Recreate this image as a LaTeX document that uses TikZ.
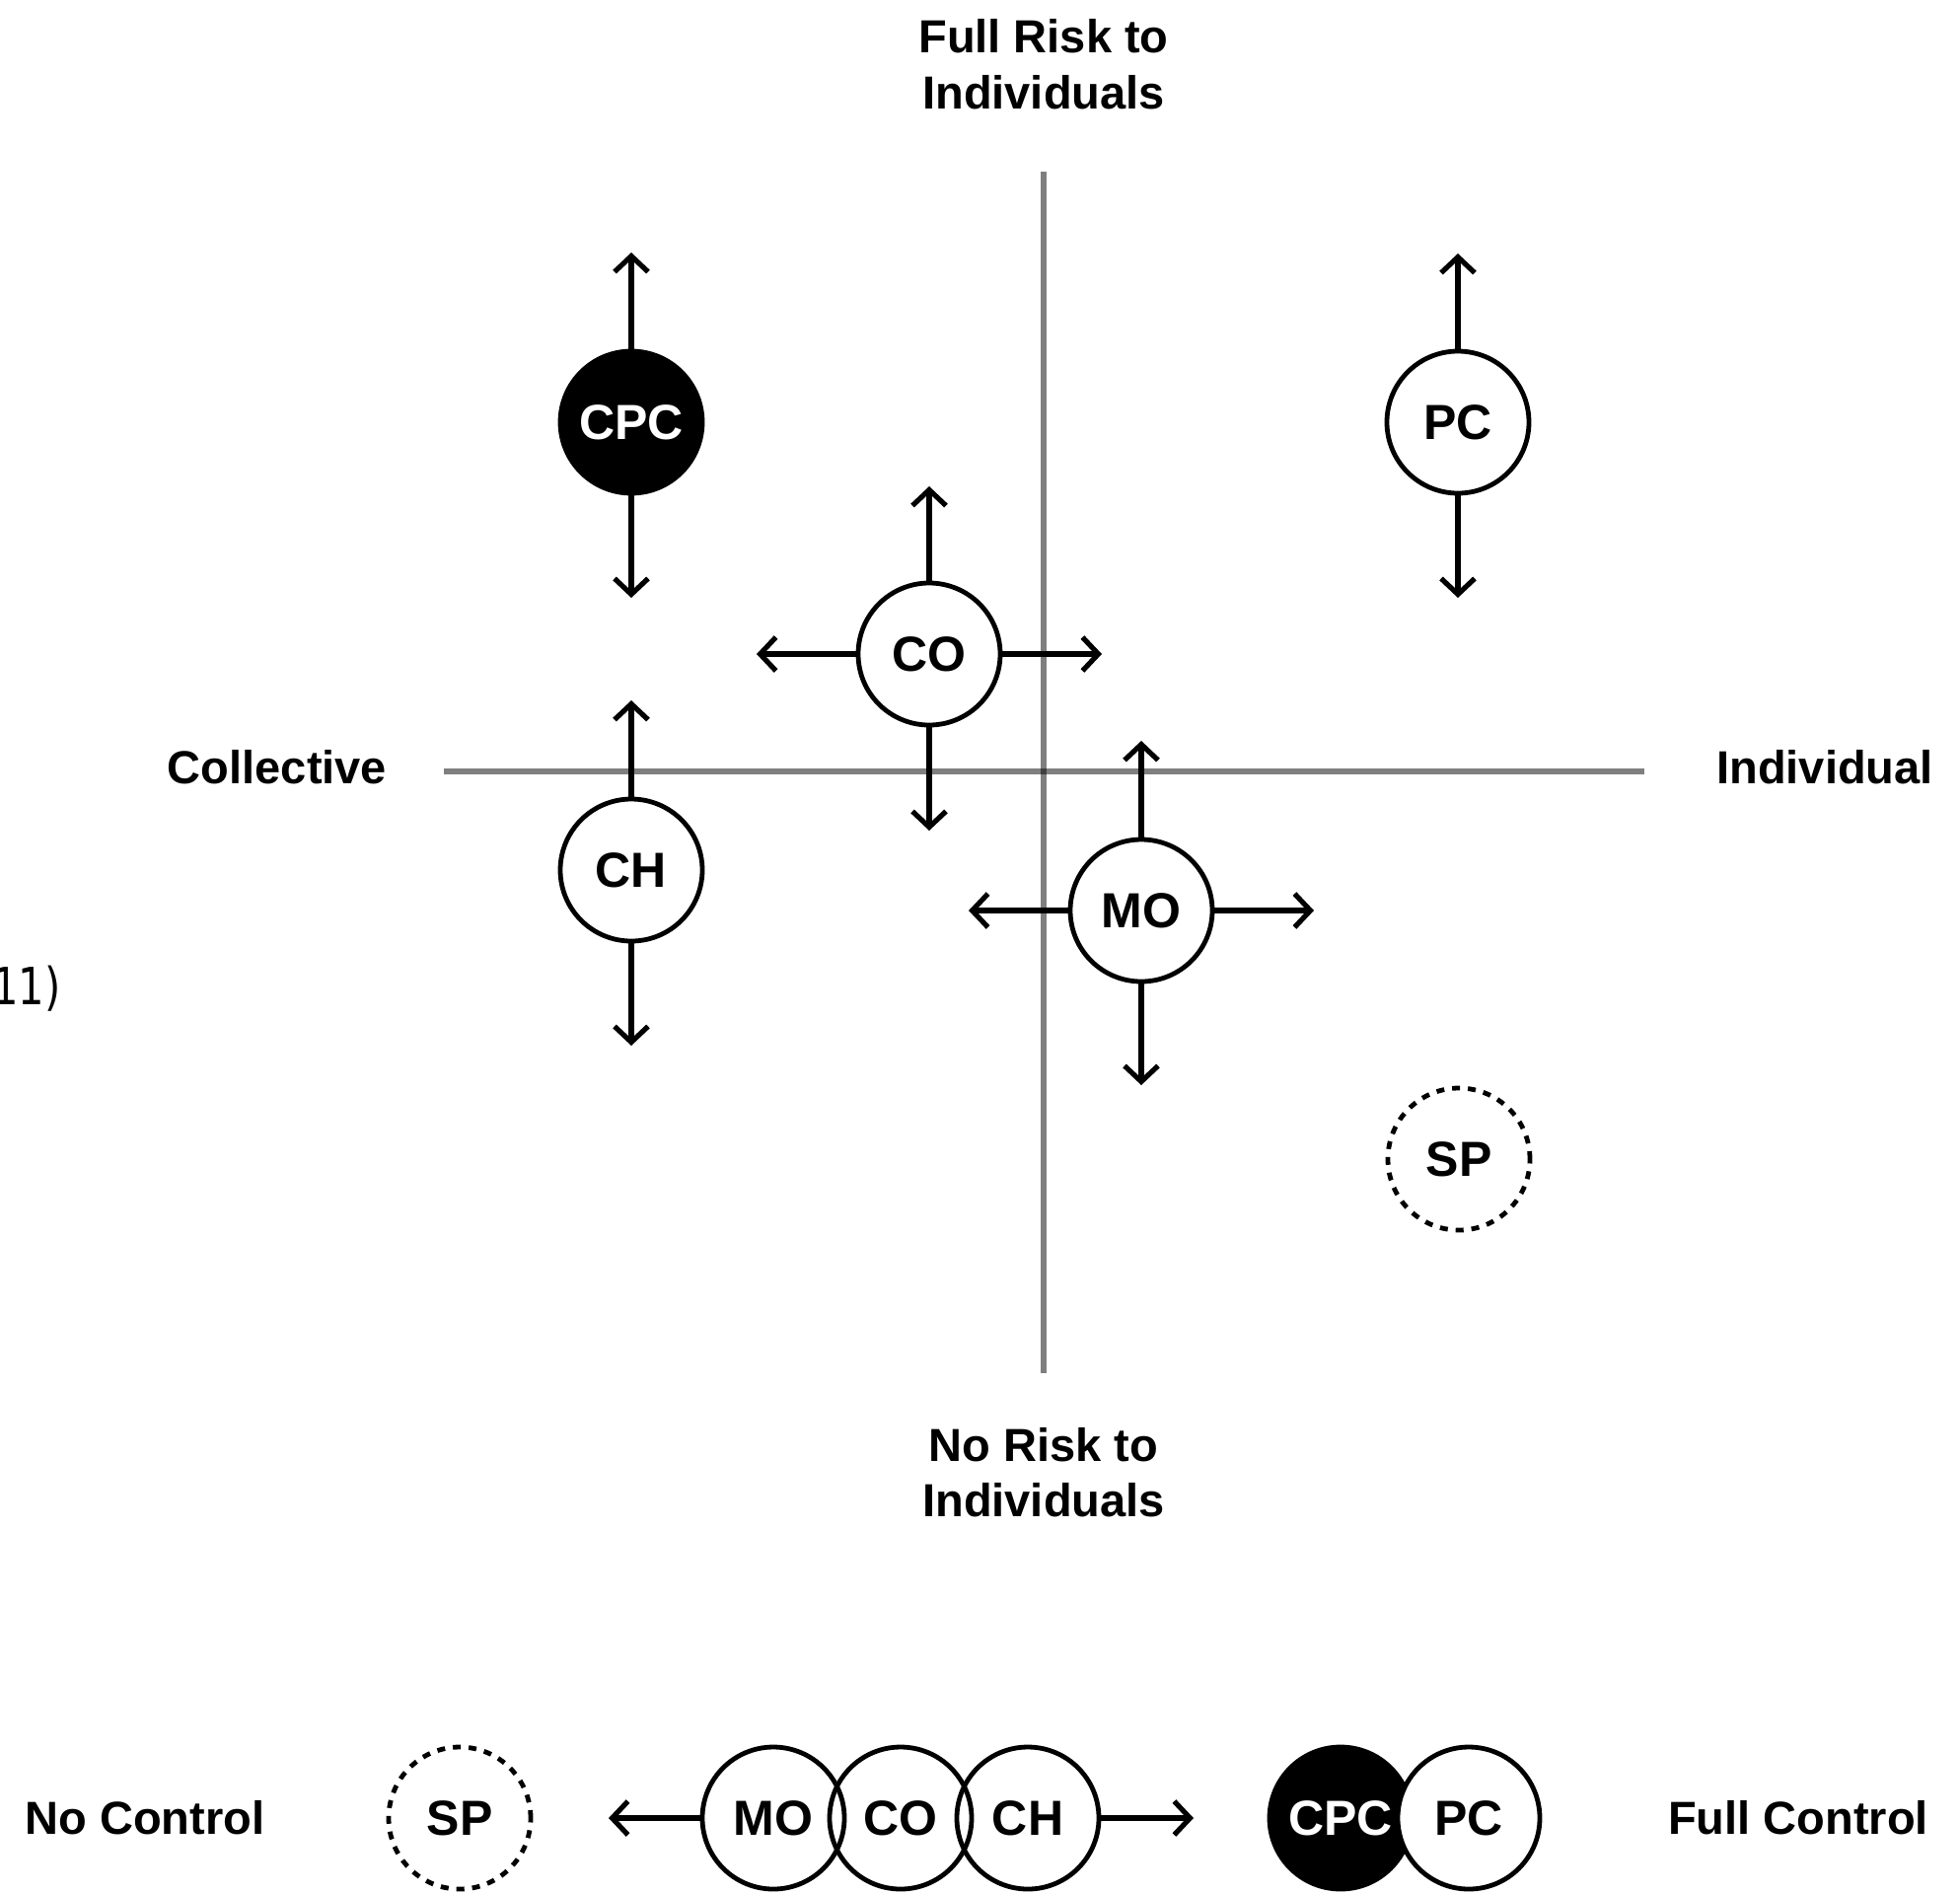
\documentclass[tikz,border=0pt]{standalone}
\usepackage{fontspec}
\setmainfont{Liberation Sans}
\newfontfamily\fragfont{DejaVu Sans}[FakeStretch=0.8]
\usetikzlibrary{arrows.meta}
\begin{document}
\begin{tikzpicture}[x=0.5pt,y=-0.5pt,
  axis/.style={draw=black, draw opacity=0.5, line width=3pt},
  ball/.style={circle, draw, line width=2.4pt, minimum size=72pt, inner sep=0pt, fill=white,
    font=\fontsize{25}{30}\selectfont\bfseries},
  dark/.style={ball, fill=black, text=white},
  ghost/.style={ball, dash pattern=on 4pt off 4pt},
  ring/.style={ball, fill=none},
  arr/.style={line width=2.6pt, -{Straight Barb[length=8pt,width=17pt]}},
  lbl/.style={font=\fontsize{23.5}{29}\selectfont\bfseries, anchor=base, inner sep=0pt}]
\useasboundingbox[fill=white] (0,0) rectangle (1987,1919);

% axes
\coordinate (vT) at (1058,174);
\coordinate (vB) at (1058,1392);
\coordinate (hL) at (450,782);
\coordinate (hR) at (1667,782);
\draw[axis] (vT) -- (vB);
\draw[axis] (hL) -- (hR);

% axis labels
\node[lbl] (fr1) at (1058,53) {Full Risk to};
\node[lbl] (fr2) at (1058,110) {Individuals};
\node[lbl] (nr1) at (1058,1481) {No Risk to};
\node[lbl] (nr2) at (1058,1537) {Individuals};
\node[lbl] (coll) at (281,794) {Collective};
\node[lbl] (indiv) at (1850,794) {Individual};

% stray fragment at the left edge
\node[anchor=base east, inner sep=0pt, font=\fragfont\fontsize{26}{30}\selectfont] (frag) at (62,1018) {11)};

% quadrant circles
\node[dark] (cpc) at (640,428) {CPC};
\node[ball] (pc) at (1478,428) {PC};
\node[ball] (co) at (942,663) {CO};
\node[ball] (ch) at (640,882) {CH};
\node[ball] (mo) at (1157,923) {MO};
\node[ghost] (sp) at (1479,1175) {SP};

\coordinate (cpcU) at (640,256);
\coordinate (cpcD) at (640,606);
\coordinate (pcU) at (1478,257);
\coordinate (pcD) at (1478,606);
\coordinate (coU) at (942,493);
\coordinate (coD) at (942,842);
\coordinate (coL) at (767,663);
\coordinate (coR) at (1117,663);
\coordinate (chU) at (640,710);
\coordinate (chD) at (640,1060);
\coordinate (moU) at (1157,751);
\coordinate (moD) at (1157,1100);
\coordinate (moL) at (982,923);
\coordinate (moR) at (1332,923);

\draw[arr] (cpc) -- (cpcU);
\draw[arr] (cpc) -- (cpcD);
\draw[arr] (pc) -- (pcU);
\draw[arr] (pc) -- (pcD);
\draw[arr] (co) -- (coU);
\draw[arr] (co) -- (coD);
\draw[arr] (co) -- (coL);
\draw[arr] (co) -- (coR);
\draw[arr] (ch) -- (chU);
\draw[arr] (ch) -- (chD);
\draw[arr] (mo) -- (moU);
\draw[arr] (mo) -- (moD);
\draw[arr] (mo) -- (moL);
\draw[arr] (mo) -- (moR);

% control scale
\node[lbl] (noc) at (147,1859) {No Control};
\node[lbl] (fullc) at (1823,1859) {Full Control};
\node[ghost] (sp2) at (466,1843) {SP};
\node[ring] (mo2) at (784,1843) {MO};
\node[ring] (co2) at (913,1843) {CO};
\node[ring] (ch2) at (1042,1843) {CH};
\node[dark] (cpc2) at (1359,1843) {CPC};
\node[ball] (pc2) at (1489,1843) {PC};
\coordinate (leftT) at (617,1843);
\coordinate (rightT) at (1210,1843);
\draw[arr] (mo2) -- (leftT);
\draw[arr] (ch2) -- (rightT);
\end{tikzpicture}
\end{document}
